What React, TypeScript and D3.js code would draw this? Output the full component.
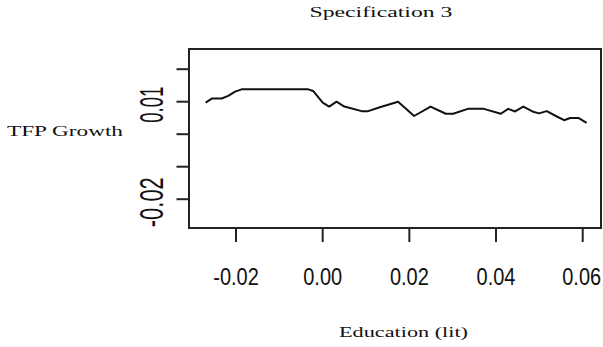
import React from "react";
import * as d3 from "d3";

// Local fit of TFP growth against literacy-based education measure
const educationLit = [
  -0.027, -0.0255, -0.0233, -0.0218, -0.0202, -0.0187, -0.0033, -0.0022, 0.0,
  0.0015, 0.0032, 0.005, 0.009, 0.0105, 0.0132, 0.0174, 0.0211, 0.0249,
  0.0284, 0.0301, 0.0335, 0.0372, 0.0411, 0.0428, 0.0444, 0.0463, 0.0484,
  0.0499, 0.0517, 0.0538, 0.0557, 0.0571, 0.059, 0.0609,
];
const tfpGrowth = [
  0.0097, 0.011, 0.011, 0.0118, 0.0131, 0.0138, 0.0138, 0.0133, 0.0097,
  0.0085, 0.01, 0.0085, 0.0071, 0.0071, 0.0083, 0.01, 0.0056, 0.0085,
  0.0063, 0.0063, 0.0078, 0.0078, 0.0063, 0.0078, 0.007, 0.0085, 0.007,
  0.0064, 0.0071, 0.0056, 0.0043, 0.005, 0.005, 0.0035,
];

const xTicks = [-0.02, 0.0, 0.02, 0.04, 0.06];
const xTickLabels = ["-0.02", "0.00", "0.02", "0.04", "0.06"];
const yTicks = [0.02, 0.01, 0.0, -0.01, -0.02];
const yTickLabels = ["", "0.01", "", "", "-0.02"];

const title = "Specification 3";
const xTitle = "Education (lit)";
const yTitle = "TFP Growth";

const W = 603;
const H = 347;
const box = { left: 189, right: 601, top: 49, bottom: 228 };

export default function App() {
  const x = d3.scaleLinear().domain([-0.02, 0.06]).range([236, 582.7]);
  const y = d3.scaleLinear().domain([0.01, 0.0]).range([101.7, 134.2]);

  const pts: [number, number][] = educationLit.map((e, i) => [e, tfpGrowth[i]]);
  const line = d3
    .line<[number, number]>()
    .x((d) => x(d[0]))
    .y((d) => y(d[1]));

  const serif = "'Liberation Serif', 'Times New Roman', serif";
  const sans = "'Liberation Sans', Arial, sans-serif";
  const yLabelLen: Record<string, number> = { "0.01": 36, "-0.02": 50 };

  return (
    <svg
      width={W}
      height={H}
      style={{ position: "absolute", left: 0, top: 0, background: "#fff" }}
    >
      <rect x={0} y={0} width={W} height={H} fill="#fff" />

      <text
        x={381}
        y={16.5}
        textAnchor="middle"
        fontFamily={serif}
        fontSize={14}
        textLength={143}
        lengthAdjust="spacingAndGlyphs"
        fill="#111"
      >
        {title}
      </text>

      <text
        x={7}
        y={136}
        fontFamily={serif}
        fontSize={15}
        textLength={116}
        lengthAdjust="spacingAndGlyphs"
        fill="#111"
      >
        {yTitle}
      </text>

      <text
        x={403.5}
        y={337}
        textAnchor="middle"
        fontFamily={serif}
        fontSize={15}
        textLength={129}
        lengthAdjust="spacingAndGlyphs"
        fill="#111"
      >
        {xTitle}
      </text>

      {/* plot frame */}
      <rect
        x={box.left}
        y={box.top}
        width={box.right - box.left}
        height={box.bottom - box.top}
        fill="none"
        stroke="#222"
        strokeWidth={2}
      />

      {/* x axis */}
      {xTicks.map((t, i) => (
        <g key={`x${i}`}>
          <line x1={x(t)} x2={x(t)} y1={box.bottom} y2={242} stroke="#222" strokeWidth={2} />
          <text
            transform={`translate(${i === xTicks.length - 1 ? x(t) - 1 : x(t)},285) scale(1,1.17)`}
            textAnchor="middle"
            fontFamily={sans}
            fontSize={20}
            fill="#111"
          >
            {xTickLabels[i]}
          </text>
        </g>
      ))}

      {/* y axis */}
      {yTicks.map((t, i) => (
        <g key={`y${i}`}>
          <line x1={176.5} x2={box.left} y1={y(t)} y2={y(t)} stroke="#222" strokeWidth={2} />
          {yTickLabels[i] && (
            <text
              transform={`translate(163,${y(t) + 3}) rotate(-90)`}
              textAnchor="middle"
              fontFamily={sans}
              fontSize={34}
              textLength={yLabelLen[yTickLabels[i]]}
              lengthAdjust="spacingAndGlyphs"
              fill="#111"
            >
              {yTickLabels[i]}
            </text>
          )}
        </g>
      ))}

      <path
        d={line(pts) ?? ""}
        fill="none"
        stroke="#111"
        strokeWidth={2}
        strokeLinejoin="round"
      />
    </svg>
  );
}
